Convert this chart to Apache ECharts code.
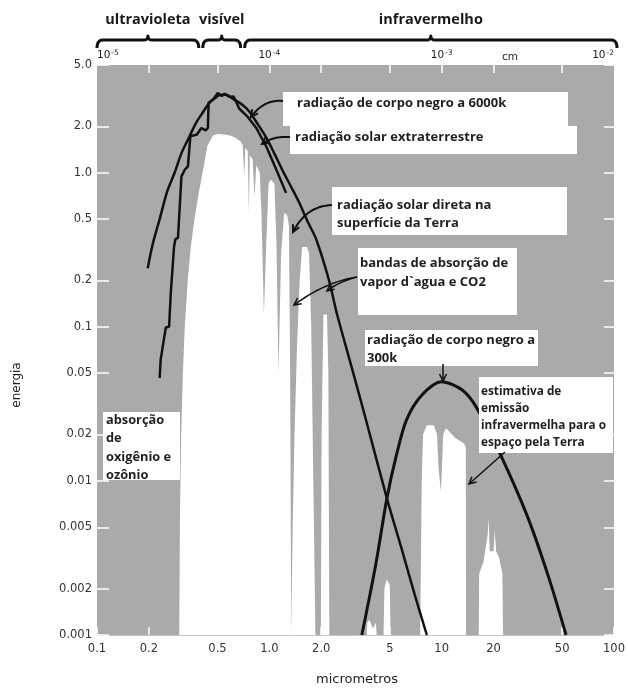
<!DOCTYPE html>
<html>
<head>
<meta charset="utf-8">
<script src="https://cdn.jsdelivr.net/npm/echarts@6/dist/echarts.min.js"></script>
<style>
  html, body { margin: 0; padding: 0; background: #fff; }
  #chart { width: 628px; height: 690px; }
</style>
</head>
<body>
<div id="chart"></div>
<script>
// eixos (escala log)
const xTicks = [0.1, 0.2, 0.5, 1, 2, 5, 10, 20, 50, 100];
const xTickLabels = ['0.1', '0.2', '0.5', '1.0', '2.0', '5', '10', '20', '50', '100'];
const yTicks = [5, 2, 1, 0.5, 0.2, 0.1, 0.05, 0.02, 0.01, 0.005, 0.002, 0.001];
const yTickLabels = ['5.0', '2.0', '1.0', '0.5', '0.2', '0.1', '0.05', '0.02', '0.01', '0.005', '0.002', '0.001'];
const cmTicks = [1e-5, 1e-4, 1e-3, 1e-2];
const cmExpoentes = ['-5', '-4', '-3', '-2'];
const cmMarcas = [2e-5, 5e-5, 1e-4, 2e-4, 5e-4, 1e-3, 2e-3, 5e-3];
const bandas = ['ultravioleta', 'visível', 'infravermelho'];
const limitesBandas = [0.1, 0.4, 0.7, 100];

// radiação solar direta na superfície da Terra (área branca)
const superficieX = [0.300, 0.303, 0.308, 0.315, 0.323, 0.336, 0.35, 0.368, 0.39, 0.41, 0.438, 0.47, 0.50, 0.55, 0.60, 0.64, 0.68, 0.70, 0.715, 0.725, 0.75, 0.76, 0.77, 0.80, 0.82, 0.84, 0.88, 0.90, 0.93, 0.96, 0.99, 1.02, 1.07, 1.10, 1.13, 1.17, 1.22, 1.27, 1.30, 1.32, 1.34, 1.35, 1.37, 1.40, 1.45, 1.50, 1.55, 1.65, 1.70, 1.75, 1.80, 1.85, 1.99, 2.01, 2.06, 2.16, 2.20, 2.23, 3.68, 3.70, 3.80, 4.00, 4.15, 4.20, 4.60, 4.65, 4.80, 5.00, 5.05];
const superficieY = [0.001, 0.006, 0.02, 0.05, 0.1, 0.2, 0.33, 0.5, 0.75, 1.0, 1.5, 1.74, 1.78, 1.77, 1.74, 1.68, 1.6, 1.52, 0.95, 1.45, 1.38, 0.55, 1.3, 1.22, 0.7, 1.12, 1.0, 0.55, 0.12, 0.35, 0.85, 0.9, 0.85, 0.35, 0.05, 0.3, 0.55, 0.53, 0.45, 0.05, 0.001, 0.002, 0.006, 0.02, 0.08, 0.2, 0.33, 0.33, 0.3, 0.1, 0.01, 0.001, 0.001, 0.02, 0.12, 0.12, 0.05, 0.001, 0.001, 0.0012, 0.00125, 0.0011, 0.0012, 0.001, 0.001, 0.002, 0.0023, 0.0021, 0.001];

// estimativa de emissão infravermelha para o espaço pela Terra (área branca)
const emissaoX = [7.5, 7.66, 7.8, 8.2, 9.0, 9.4, 9.6, 9.9, 10.2, 10.6, 12.0, 13.5, 13.8, 13.85, 16.4, 16.5, 17.5, 18.5, 18.7, 19.0, 20.0, 20.3, 20.7, 21.5, 22.5, 22.7];
const emissaoY = [0.001, 0.01, 0.02, 0.023, 0.023, 0.02, 0.012, 0.0085, 0.02, 0.022, 0.019, 0.0175, 0.0165, 0.001, 0.001, 0.0025, 0.003, 0.0045, 0.0058, 0.0035, 0.0035, 0.0048, 0.0035, 0.0032, 0.0025, 0.001];

// radiação de corpo negro a 6000k
const corpo6000X = [0.197, 0.21, 0.231, 0.255, 0.282, 0.31, 0.345, 0.375, 0.41, 0.45, 0.494, 0.52, 0.56, 0.62, 0.70, 0.767, 0.86, 0.96, 1.07, 1.19, 1.33, 1.49, 1.67, 1.87, 2.22, 2.46, 3.0, 3.6, 4.81, 6.0, 7.0, 8.2];
const corpo6000Y = [0.24, 0.34, 0.5, 0.75, 1.0, 1.35, 1.73, 2.1, 2.45, 2.85, 3.1, 3.2, 3.2, 3.0, 2.75, 2.49, 2.05, 1.69, 1.33, 1.04, 0.82, 0.64, 0.48, 0.37, 0.2, 0.123, 0.055, 0.026, 0.0077, 0.0033, 0.0018, 0.001];

// radiação solar extraterrestre
const solarX = [0.231, 0.234, 0.244, 0.251, 0.262, 0.268, 0.28, 0.285, 0.295, 0.309, 0.323, 0.337, 0.348, 0.38, 0.403, 0.427, 0.44, 0.444, 0.47, 0.502, 0.53, 0.55, 0.59, 0.62, 0.67, 0.75, 0.84, 0.96, 1.1, 1.25];
const solarY = [0.0465, 0.061, 0.082, 0.099, 0.1, 0.166, 0.332, 0.37, 0.377, 0.946, 1.045, 1.1, 1.72, 1.77, 1.95, 1.88, 1.95, 2.84, 2.98, 3.29, 3.15, 3.25, 3.1, 3.12, 2.6, 2.3, 1.95, 1.48, 1.04, 0.74];

// radiação de corpo negro a 300k
const corpo300X = [3.44, 4.14, 4.81, 5.43, 6.25, 7.66, 10.0, 13.1, 15.9, 22.0, 31.6, 41.6, 52.7];
const corpo300Y = [0.001, 0.00285, 0.0077, 0.0143, 0.0249, 0.036, 0.044, 0.039, 0.030, 0.0147, 0.0058, 0.0024, 0.001];

const pares = (xs, ys) => xs.map((x, i) => [x, ys[i]]);
const rotulo = (v, ticks, labels) => {
  let best = 0;
  ticks.forEach((t, i) => {
    if (Math.abs(Math.log10(t) - Math.log10(v)) < Math.abs(Math.log10(ticks[best]) - Math.log10(v))) best = i;
  });
  return labels[best];
};

const fonte = 'DejaVu Sans';
const chart = echarts.init(document.getElementById('chart'));

const areaBranca = (name, data) => ({
  name, type: 'line', data, symbol: 'none', silent: true,
  lineStyle: { width: 0 },
  areaStyle: { color: '#ffffff', opacity: 1, origin: 'start' },
  z: 2
});
const linhaPreta = (name, data, w, smooth) => ({
  name, type: 'line', data, symbol: 'none', silent: true, smooth,
  lineStyle: { color: '#111', width: w }, z: 3
});

chart.setOption({
  animation: false,
  backgroundColor: '#fff',
  grid: { left: 97, right: 11, top: 65, bottom: 55, show: true, backgroundColor: '#aaaaaa', borderWidth: 0 },
  xAxis: [
    {
      type: 'log', logBase: 10, min: 0.1, max: 100, position: 'bottom',
      axisLine: { show: true, lineStyle: { color: '#c4c4c4', width: 1 } },
      axisTick: { show: true, inside: true, length: 8, customValues: xTicks, lineStyle: { color: '#fff', width: 1.5 } },
      axisLabel: { customValues: xTicks, formatter: v => rotulo(v, xTicks, xTickLabels), color: '#333', fontSize: 11.5, fontFamily: fonte, margin: 8 },
      splitLine: { show: false }, minorTick: { show: false }
    },
    {
      type: 'log', logBase: 10, min: 1e-5, max: 1e-2, position: 'top',
      axisLine: { show: false },
      axisTick: { show: true, inside: true, length: 8, customValues: cmMarcas, lineStyle: { color: '#fff', width: 1.5 } },
      axisLabel: {
        customValues: cmTicks, margin: 3, alignMinLabel: 'left', alignMaxLabel: 'right',
        formatter: v => '{b|10}{s|' + rotulo(v, cmTicks, cmExpoentes) + '}',
        rich: {
          b: { fontSize: 10.5, fontFamily: fonte, color: '#222' },
          s: { fontSize: 7.5, fontFamily: fonte, color: '#222', verticalAlign: 'top', padding: [0, 0, 5, 1] }
        }
      },
      splitLine: { show: false }
    }
  ],
  yAxis: [
    {
      type: 'log', logBase: 10, min: 0.001, max: 5,
      axisLine: { show: false },
      axisTick: { show: true, inside: true, length: 12, customValues: yTicks, lineStyle: { color: '#fff', width: 1.5 } },
      axisLabel: { customValues: yTicks, formatter: v => rotulo(v, yTicks, yTickLabels), color: '#333', fontSize: 11.5, fontFamily: fonte, margin: 5 },
      splitLine: { show: false }
    },
    {
      type: 'log', logBase: 10, min: 0.001, max: 5, position: 'right',
      axisLine: { show: false },
      axisTick: { show: true, inside: true, length: 10, customValues: yTicks, lineStyle: { color: '#fff', width: 1.5 } },
      axisLabel: { show: false },
      splitLine: { show: false }
    }
  ],
  series: [
    areaBranca('superfície', pares(superficieX, superficieY)),
    areaBranca('emissão', pares(emissaoX, emissaoY)),
    linhaPreta('corpo negro 6000k', pares(corpo6000X, corpo6000Y), 2.5, 0.3),
    linhaPreta('solar extraterrestre', pares(solarX, solarY), 2.5, false),
    linhaPreta('corpo negro 300k', pares(corpo300X, corpo300Y), 3, 0.3)
  ]
});

// anotações (curvas amostradas como polylines)
function quad(p0, c, p1, n) {
  const pts = [];
  for (let i = 0; i <= n; i++) {
    const t = i / n, u = 1 - t;
    pts.push([u * u * p0[0] + 2 * u * t * c[0] + t * t * p1[0], u * u * p0[1] + 2 * u * t * c[1] + t * t * p1[1]]);
  }
  return pts;
}
function seta(p0, c, p1, w) {
  const dx = p1[0] - c[0], dy = p1[1] - c[1];
  const L = Math.hypot(dx, dy) || 1, ux = dx / L, uy = dy / L;
  const bx = p1[0] - ux * 7, by = p1[1] - uy * 7;
  const l = [bx - uy * 3.5, by + ux * 3.5], r = [bx + uy * 3.5, by - ux * 3.5];
  return [
    { type: 'polyline', z: 102, shape: { points: quad(p0, c, p1, 16) }, style: { stroke: '#111', lineWidth: w, fill: null } },
    { type: 'polyline', z: 102, shape: { points: [l, p1, r] }, style: { stroke: '#111', lineWidth: w, fill: null } }
  ];
}
function chave(x1, x2) {
  const m = (x1 + x2) / 2;
  const pts = [].concat(
    quad([x1, 48], [x1, 40], [x1 + 6, 40], 6),
    [[m - 4, 40]], quad([m - 4, 40], [m, 40], [m, 36], 4),
    quad([m, 36], [m, 40], [m + 4, 40], 4).slice(1),
    [[x2 - 6, 40]], quad([x2 - 6, 40], [x2, 40], [x2, 48], 6).slice(1)
  );
  return { type: 'polyline', z: 100, shape: { points: pts }, style: { stroke: '#111', lineWidth: 3, fill: null, lineJoin: 'round' } };
}
function caixa(x, y, w, h, linhas, tx, ty0, dy, fs) {
  const els = [{ type: 'rect', shape: { x, y, width: w, height: h }, style: { fill: '#fff' }, z: 100 }];
  linhas.forEach((t, i) => els.push({
    type: 'text', x: tx, y: ty0 + i * dy, z: 101,
    style: { text: t, font: 'bold ' + fs + 'px "Open Sans"', fill: '#1f1f1f', textVerticalAlign: 'middle' }
  }));
  return els;
}

const px = v => chart.convertToPixel({ xAxisIndex: 0 }, v);
const limites = limitesBandas.map(px);
const graficos = [];
bandas.forEach((nome, i) => {
  const x1 = limites[i] + (i ? 2 : 0), x2 = limites[i + 1] - (i < 2 ? 2 : -3);
  graficos.push(chave(x1, x2));
  graficos.push({
    type: 'text', x: (x1 + x2) / 2, y: 20, z: 100,
    style: { text: nome, font: 'bold 14.5px "Open Sans"', fill: '#1a1a1a', textAlign: 'center', textVerticalAlign: 'middle' }
  });
});
graficos.push({ type: 'text', x: 510, y: 57, z: 100, style: { text: 'cm', font: '10.5px "DejaVu Sans"', fill: '#222', textAlign: 'center', textVerticalAlign: 'middle' } });

graficos.push(...caixa(283, 92, 285, 34, ['radiação de corpo negro a 6000k'], 297, 103, 0, 13));
graficos.push(...caixa(290, 126, 287, 28, ['radiação solar extraterrestre'], 295, 137, 0, 13));
graficos.push(...caixa(332, 187, 235, 48, ['radiação solar direta na', 'superfície da Terra'], 337, 205, 18, 13));
graficos.push(...caixa(358, 248, 159, 67, ['bandas de absorção de', 'vapor d`agua e CO2'], 360, 263, 19, 13));
graficos.push(...caixa(365, 330, 173, 36, ['radiação de corpo negro a', '300k'], 367, 340, 18, 13));
graficos.push(...caixa(479, 377, 134, 76, ['estimativa de', 'emissão', 'infravermelha para o', 'espaço pela Terra'], 481, 392, 17, 11.8));
graficos.push(...caixa(103, 412, 77, 68, ['absorção', 'de', 'oxigênio e', 'ozônio'], 106, 420, 18.5, 12.8));

const setas = [
  [[283, 101], [264, 99], [251, 117], 2],
  [[290, 137], [273, 136], [262, 144], 2],
  [[332, 205], [306, 206], [293, 232], 2],
  [[357, 277], [325, 282], [294, 305], 1.5],
  [[357, 277], [338, 282], [327, 291], 1.5],
  [[443, 364], [443, 372], [443, 381], 1.5],
  [[505, 452], [487, 468], [469, 484], 1.5]
];
setas.forEach(([a, c, b, w]) => graficos.push(...seta(a, c, b, w)));

graficos.push({ type: 'text', x: 17, y: 385, rotation: Math.PI / 2, z: 100, style: { text: 'energia', font: '12px "DejaVu Sans"', fill: '#222', textAlign: 'center', textVerticalAlign: 'middle' } });
graficos.push({ type: 'text', x: 357, y: 680, z: 100, style: { text: 'micrometros', font: '13px "DejaVu Sans"', fill: '#222', textAlign: 'center', textVerticalAlign: 'middle' } });

chart.setOption({ graphic: graficos });
</script>
</body>
</html>
